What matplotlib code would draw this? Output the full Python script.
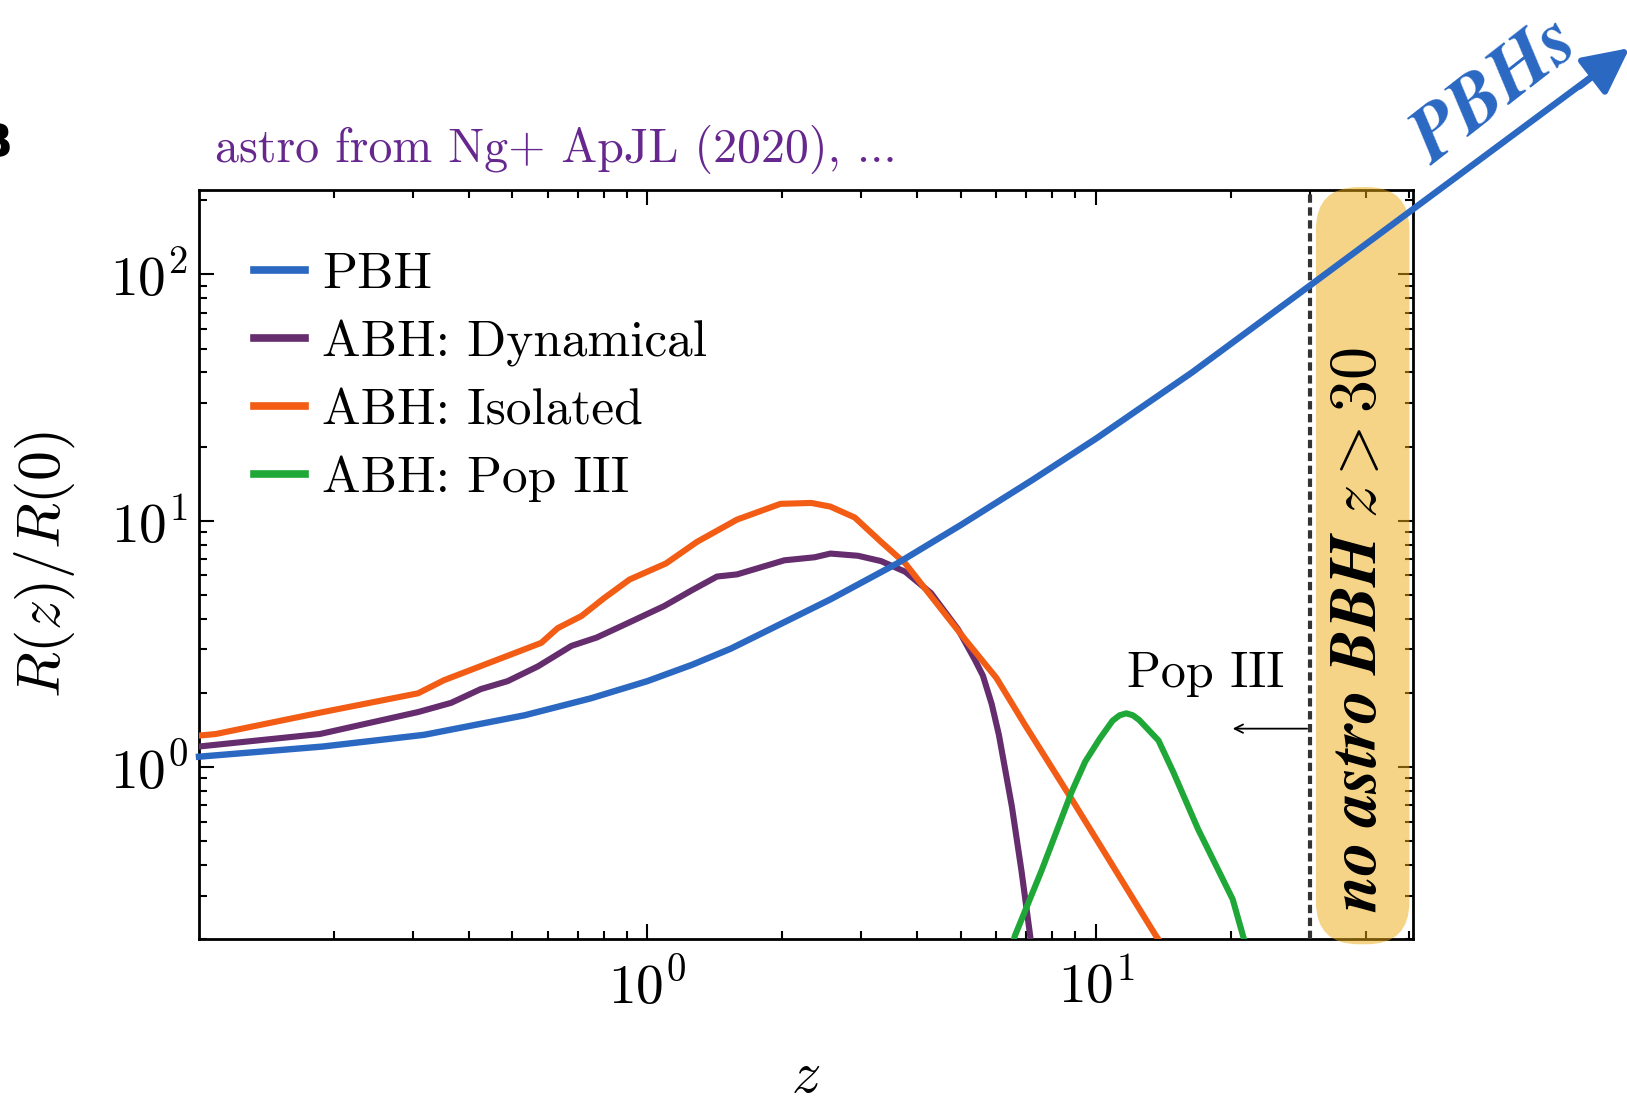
import numpy as np
import matplotlib
matplotlib.use('Agg')
import matplotlib.pyplot as plt
from matplotlib.patches import FancyBboxPatch

plt.rcParams['font.family'] = 'serif'
plt.rcParams['font.serif'] = ['cmr10']
plt.rcParams['mathtext.fontset'] = 'cm'
plt.rcParams['axes.formatter.use_mathtext'] = True
plt.rcParams['axes.unicode_minus'] = False

# data
z_pbh = [0.1, 0.189, 0.318, 0.532, 0.749, 1.0, 1.259, 1.534, 2.56, 3.61, 5.0, 7.21, 10.0, 16.4, 30.5, 51.2, 100.0, 140.0]
r_pbh = [1.10, 1.21, 1.35, 1.62, 1.90, 2.23, 2.60, 3.02, 4.79, 6.71, 9.6, 14.6, 21.5, 40.0, 92.0, 185.0, 457.0, 720.0]

z_dyn = [0.1, 0.186, 0.308, 0.365, 0.425, 0.488, 0.57, 0.677, 0.77, 0.875, 1.09, 1.26, 1.43, 1.585,
         2.02, 2.36, 2.56, 2.95, 3.32, 3.76, 4.29, 4.93, 5.37, 5.6, 5.86, 6.08, 6.5, 6.83, 7.14, 7.3]
r_dyn = [1.21, 1.36, 1.67, 1.82, 2.07, 2.23, 2.56, 3.10, 3.35, 3.73, 4.5, 5.23, 5.93, 6.05,
         6.9, 7.1, 7.35, 7.2, 6.85, 6.2, 5.08, 3.62, 2.73, 2.35, 1.8, 1.35, 0.69, 0.377, 0.206, 0.15]

z_iso = [0.1, 0.109, 0.189, 0.308, 0.352, 0.58, 0.631, 0.713, 0.80, 0.913, 1.1, 1.29, 1.585, 1.98,
         2.32, 2.56, 2.9, 3.32, 3.76, 4.29, 5.12, 6.0, 6.97, 8.83, 13.6, 15.0]
r_iso = [1.34, 1.36, 1.67, 1.99, 2.25, 3.19, 3.66, 4.10, 4.84, 5.77, 6.7, 8.2, 10.1, 11.7,
         11.8, 11.4, 10.3, 8.2, 6.7, 4.94, 3.28, 2.3, 1.47, 0.741, 0.207, 0.16]

z_pop3 = [6.3, 6.6, 7.56, 8.83, 9.47, 10.2, 10.9, 11.3, 11.7, 12.1, 12.5, 13.8, 14.9, 16.9, 20.2, 21.3, 22.0]
r_pop3 = [0.15, 0.206, 0.377, 0.79, 1.05, 1.30, 1.54, 1.62, 1.65, 1.62, 1.55, 1.28, 0.95, 0.56, 0.29, 0.206, 0.17]

labels = ['PBH', 'ABH: Dynamical', 'ABH: Isolated', 'ABH: Pop III']
colors = ['#2a68c2', '#652d6e', '#f25c14', '#1fa838']

fig = plt.figure(figsize=(16.27, 11.05), dpi=100)
ax = fig.add_axes([0.1223, 0.1502, 0.7462, 0.6778])

ax.plot(z_pbh, r_pbh, color=colors[0], lw=4.6, label=labels[0], clip_on=False, zorder=6)
ax.plot(z_dyn, r_dyn, color=colors[1], lw=4.4, label=labels[1], zorder=4)
ax.plot(z_iso, r_iso, color=colors[2], lw=4.4, label=labels[2], zorder=4)
ax.plot(z_pop3, r_pop3, color=colors[3], lw=4.4, label=labels[3], zorder=4)

# PBH arrow head outside the axes
ax.annotate('', xy=(155, 830), xytext=(120, 580), xycoords='data',
            arrowprops=dict(arrowstyle='-|>,head_length=0.7,head_width=0.35', color=colors[0],
                            lw=4.6, shrinkA=0, shrinkB=0, mutation_scale=40),
            annotation_clip=False, zorder=6)
fig.text(0.919, 0.916, 'PBHs', color=colors[0], rotation=38, fontsize=56,
         family='STIXGeneral', weight='bold', style='italic', ha='center', va='center')

ax.set_xscale('log')
ax.set_yscale('log')
ax.set_xlim(0.1, 51)
ax.set_ylim(0.2, 220)
ax.set_xticks([1, 10])

ax.axvline(30, color='#333333', lw=3, ls=(0, (2.0, 1.1)), zorder=5)

box = FancyBboxPatch((0.920, -0.007), 0.077, 1.011, transform=ax.transAxes,
                     boxstyle='round,pad=0,rounding_size=0.035', mutation_aspect=1214 / 749,
                     fc='#edab10', ec='none', alpha=0.5, clip_on=False, zorder=5)
ax.add_patch(box)
ax.text(0.956, 0.413, r'no astro BBH $z > 30$', transform=ax.transAxes, rotation=90,
        fontsize=47.5, family='STIXGeneral', weight='bold', style='italic',
        ha='center', va='center', zorder=7)

ax.text(17.6, 2.39, 'Pop III', fontsize=36, ha='center', va='center')
ax.annotate('', xy=(20.2, 1.43), xytext=(29.6, 1.43),
            arrowprops=dict(arrowstyle='->,head_length=0.6,head_width=0.3', lw=1.3, color='black',
                            shrinkA=0, shrinkB=0))

for s in ax.spines.values():
    s.set_linewidth(2.0)
ax.tick_params(which='both', direction='in', top=True, right=True, width=1.5)
ax.tick_params(which='major', length=11, labelsize=40)
ax.tick_params(which='minor', length=6)
ax.tick_params(axis='x', which='major', pad=15)
ax.tick_params(axis='y', which='major', pad=8)

ax.set_xlabel(r'$z$', fontsize=42, labelpad=26)
ax.set_ylabel(r'$R(z)/R(0)$', fontsize=43, labelpad=24)

leg = ax.legend(loc='upper left', bbox_to_anchor=(0.045, 0.917), frameon=False, fontsize=37,
                handlelength=1.0, handletextpad=0.33, labelspacing=0.42, borderpad=0, borderaxespad=0)
for h in leg.get_lines():
    h.set_linewidth(5.5)

fig.text(0.132, 0.853, 'astro from Ng+ ApJL (2020), ...', color='#66288f', fontsize=34.5,
         ha='left', va='baseline')
fig.text(0.008, 0.869, 'B', fontsize=34, weight='bold', family='DejaVu Sans', ha='right', va='center')

fig.savefig('out.png', dpi=100)
